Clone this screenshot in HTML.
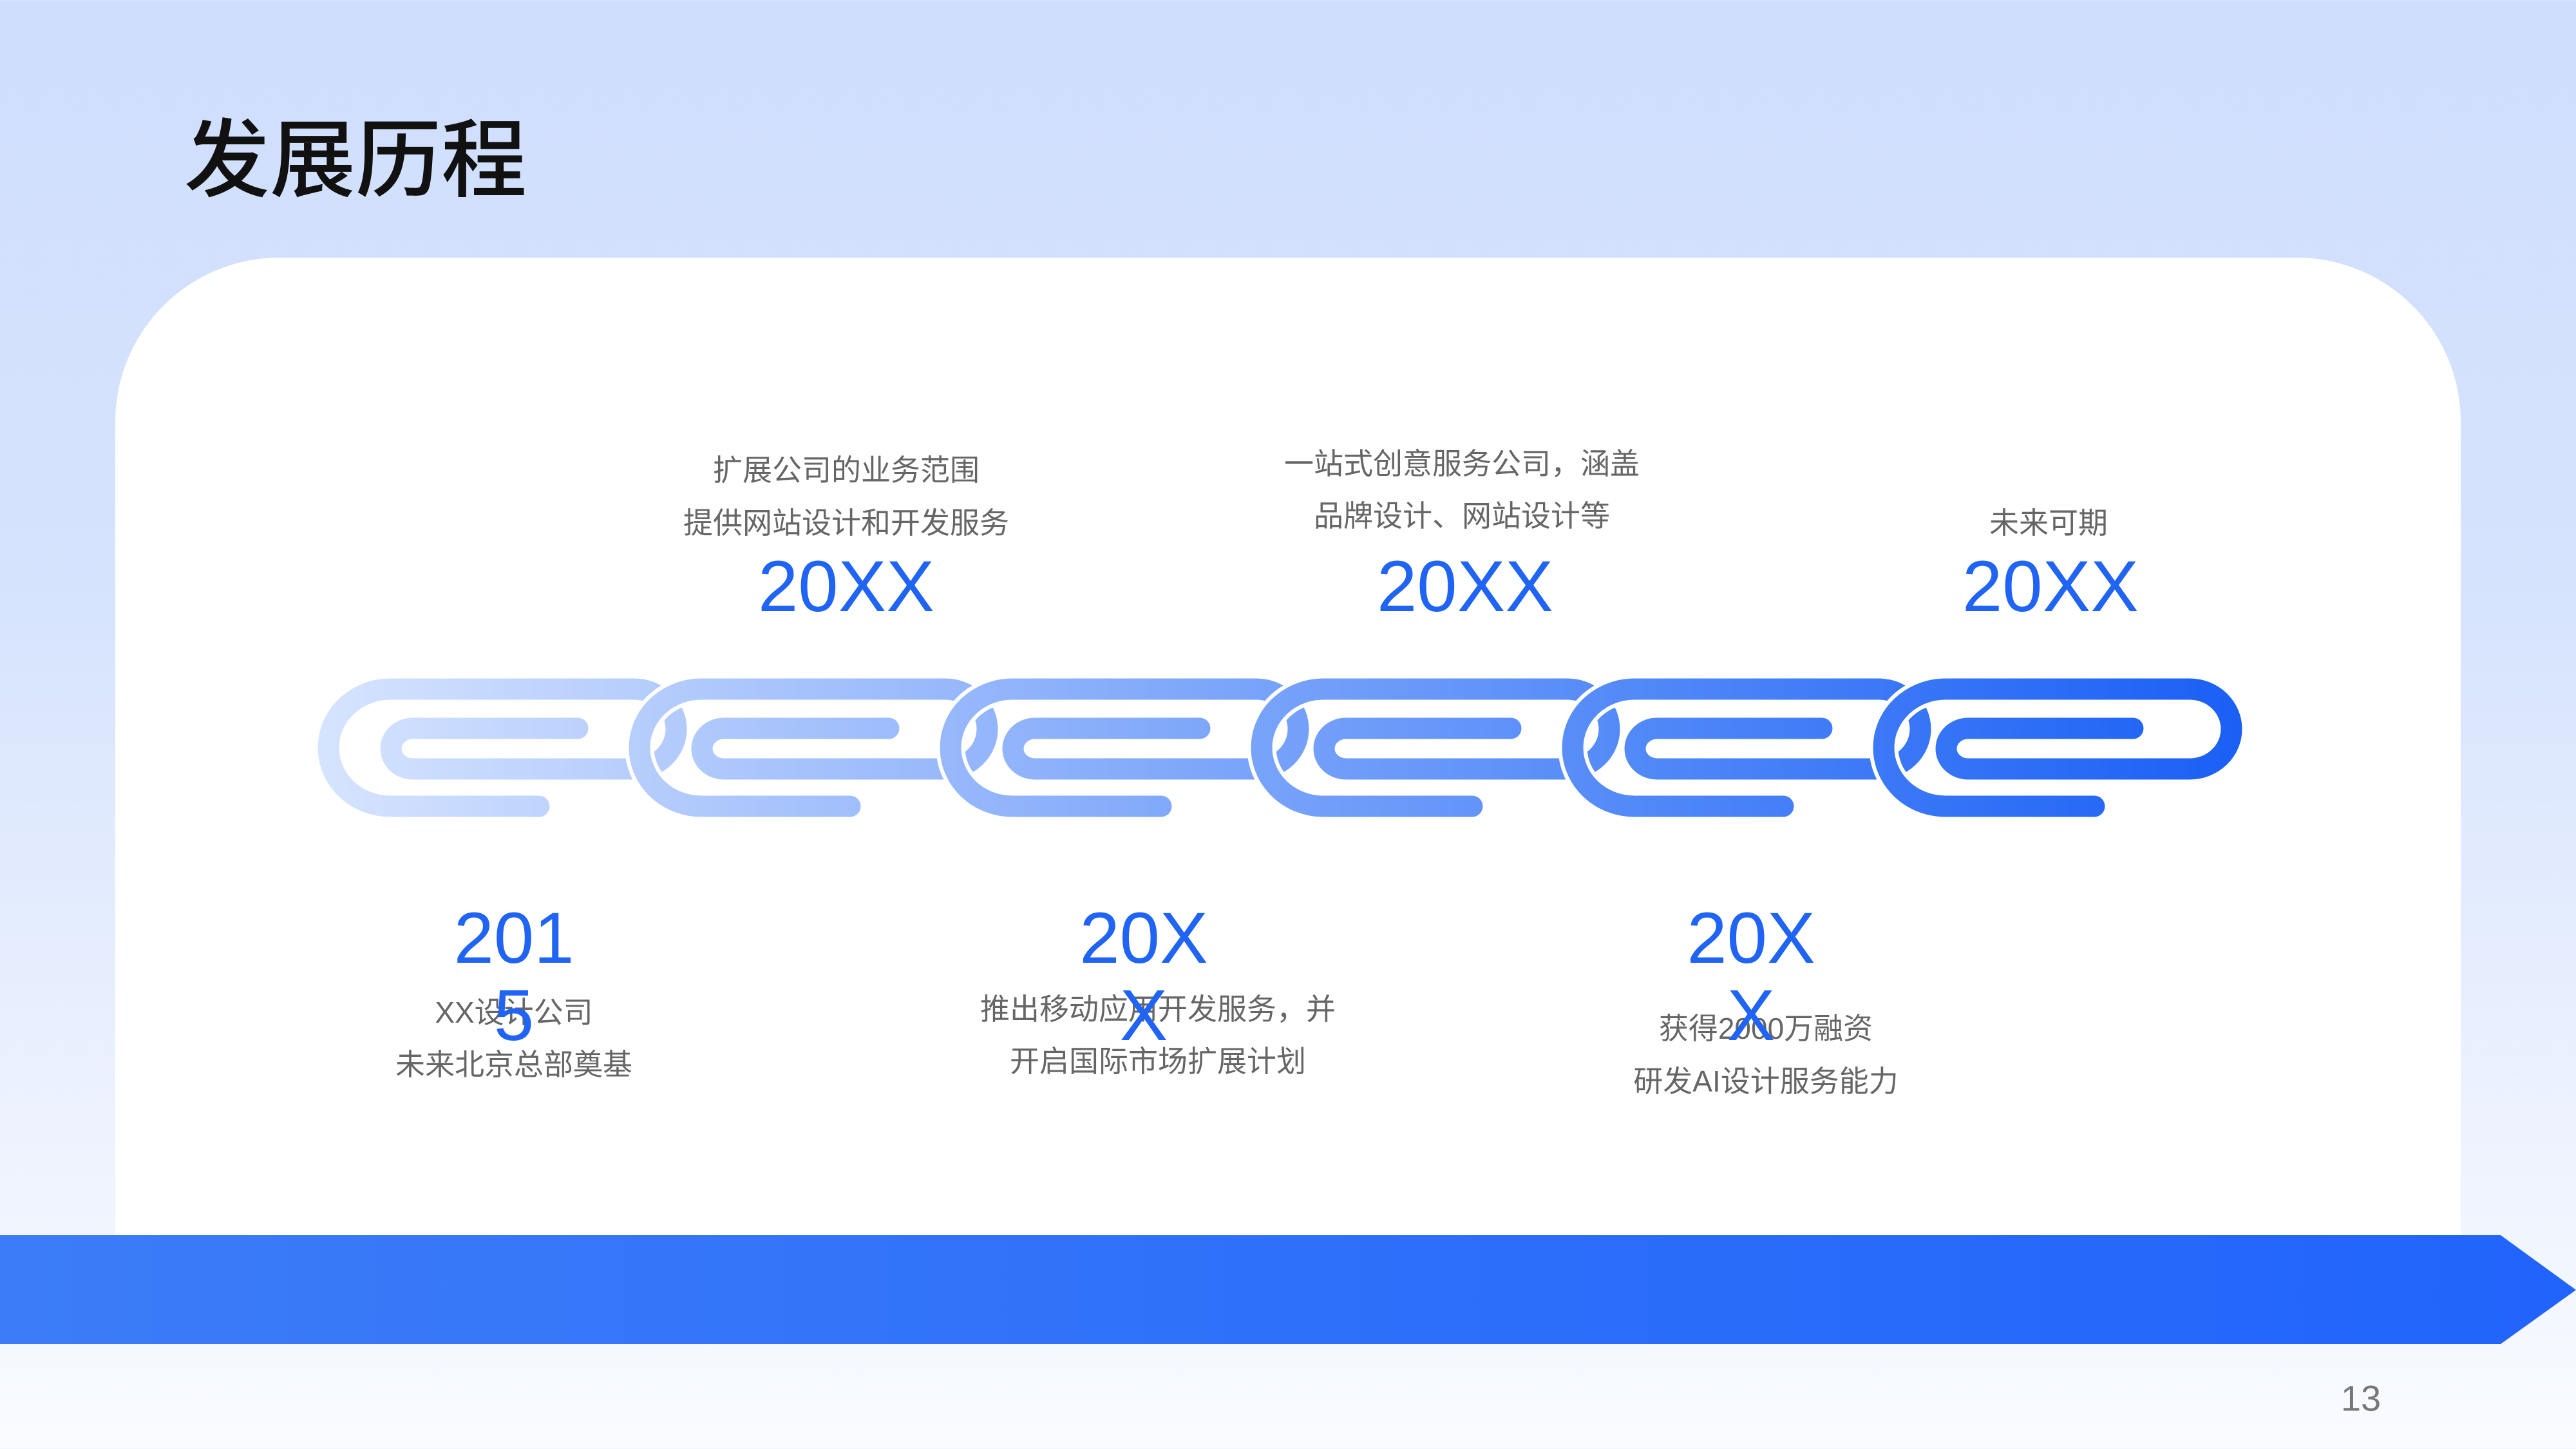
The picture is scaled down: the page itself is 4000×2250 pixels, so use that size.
<!DOCTYPE html>
<html><head><meta charset="utf-8">
<style>
html,body{margin:0;padding:0}
body{width:4000px;height:2250px;position:relative;overflow:hidden;background:linear-gradient(180deg,#cfdefd 0%,#d6e3fd 40%,#eef3fe 80%,#f9fbff 100%);font-family:"Liberation Sans","Noto Sans CJK SC",sans-serif}
.card{position:absolute;left:179px;top:400px;width:3642px;height:1600px;background:#fff;border-radius:255px 255px 0 0}
.t{position:absolute;width:1400px;text-align:center;white-space:nowrap;transform:translate(-50%,-50%)}
.g{font-size:46px;color:#666;font-family:"Liberation Sans","Noto Sans CJK SC",sans-serif}
.y{font-size:112px;color:#1f64f4;line-height:1}
</style></head><body>
<div class="card"></div>
<div style="position:absolute;left:286px;top:165px;font-size:133px;font-weight:500;color:#111;font-family:'Noto Sans CJK SC',sans-serif;line-height:1.1">发展历程</div>

<svg style="position:absolute;left:0;top:0" width="4000" height="2250" viewBox="0 0 4000 2250">
<defs>
<linearGradient id="c0" gradientUnits="userSpaceOnUse" x1="490" y1="0" x2="3490" y2="0"><stop offset="0" stop-color="#d6e4fe"/><stop offset="0.35" stop-color="#93b5fb"/><stop offset="0.7" stop-color="#4f87f8"/><stop offset="1" stop-color="#1a5ff5"/></linearGradient>
<linearGradient id="c1" href="#c0" x1="7" x2="3007"/>
<linearGradient id="c2" href="#c0" x1="-476" x2="2524"/>
<linearGradient id="c3" href="#c0" x1="-959" x2="2041"/>
<linearGradient id="c4" href="#c0" x1="-1442" x2="1558"/>
<linearGradient id="c5" href="#c0" x1="-1925" x2="1075"/>
<linearGradient id="bg" x1="0" y1="0" x2="1" y2="0"><stop offset="0" stop-color="#3c7cf8"/><stop offset="1" stop-color="#2164fb"/></linearGradient>
<path id="lk" d="M897 1131 L641 1131 A34 31.5 0 0 0 641 1194 L985 1194 A65 62 0 0 0 985 1070 L606 1070 A96 91 0 0 0 606 1252 L837 1252"/>
</defs>
<g fill="none" stroke-linecap="round" stroke-linejoin="round">
<g><use href="#lk" stroke="#fff" stroke-width="45"/><use href="#lk" stroke="url(#c0)" stroke-width="33"/></g>
<g transform="translate(483,0)"><use href="#lk" stroke="#fff" stroke-width="45"/><use href="#lk" stroke="url(#c1)" stroke-width="33"/></g>
<g transform="translate(966,0)"><use href="#lk" stroke="#fff" stroke-width="45"/><use href="#lk" stroke="url(#c2)" stroke-width="33"/></g>
<g transform="translate(1449,0)"><use href="#lk" stroke="#fff" stroke-width="45"/><use href="#lk" stroke="url(#c3)" stroke-width="33"/></g>
<g transform="translate(1932,0)"><use href="#lk" stroke="#fff" stroke-width="45"/><use href="#lk" stroke="url(#c4)" stroke-width="33"/></g>
<g transform="translate(2415,0)"><use href="#lk" stroke="#fff" stroke-width="45"/><use href="#lk" stroke="url(#c5)" stroke-width="33"/></g>
</g>
<polygon points="0,1918 3883,1918 4000,2003 3883,2087 0,2087" fill="url(#bg)"/>
</svg>

<div class="t g" style="left:1314px;top:727px">扩展公司的业务范围</div>
<div class="t g" style="left:1314px;top:809px">提供网站设计和开发服务</div>
<div class="t y" style="left:1314px;top:911px">20XX</div>

<div class="t g" style="left:2270px;top:717px">一站式创意服务公司，涵盖</div>
<div class="t g" style="left:2270px;top:798px">品牌设计、网站设计等</div>
<div class="t y" style="left:2275px;top:911px">20XX</div>

<div class="t g" style="left:3181px;top:809px">未来可期</div>
<div class="t y" style="left:3184px;top:911px">20XX</div>

<div class="t g" style="left:798px;top:1569px">XX设计公司</div>
<div class="t g" style="left:798px;top:1650px">未来北京总部奠基</div>
<div class="t y" style="left:798px;top:1457px">201</div>
<div class="t y" style="left:798px;top:1577px">5</div>

<div class="t g" style="left:1798px;top:1564px">推出移动应用开发服务，并</div>
<div class="t g" style="left:1798px;top:1645px">开启国际市场扩展计划</div>
<div class="t y" style="left:1776px;top:1457px">20X</div>
<div class="t y" style="left:1776px;top:1577px">X</div>

<div class="t g" style="left:2742px;top:1594px">获得2000万融资</div>
<div class="t g" style="left:2742px;top:1676px">研发AI设计服务能力</div>
<div class="t y" style="left:2719px;top:1457px">20X</div>
<div class="t y" style="left:2719px;top:1577px">X</div>

<div class="t" style="left:3666px;top:2171px;font-size:56px;color:#777">13</div>
</body></html>
